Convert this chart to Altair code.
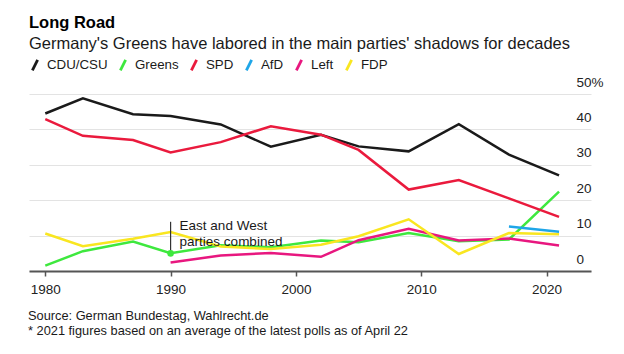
import altair as alt
import pandas as pd

years = [1980, 1983, 1987, 1990, 1994, 1998, 2002, 2005, 2009, 2013, 2017, 2021]
cdu = [44.5, 48.8, 44.3, 43.8, 41.4, 35.1, 38.5, 35.2, 33.8, 41.5, 32.9, 27.0]
greens = [1.5, 5.6, 8.3, 5.0, 7.3, 6.7, 8.6, 8.1, 10.7, 8.4, 8.9, 22.4]
spd = [42.9, 38.2, 37.0, 33.5, 36.4, 40.9, 38.5, 34.2, 23.0, 25.7, 20.5, 15.3]
afd = [None, None, None, None, None, None, None, None, None, None, 12.6, 11.1]
left = [None, None, None, 2.4, 4.4, 5.1, 4.0, 8.7, 11.9, 8.6, 9.2, 7.2]
fdp = [10.6, 7.0, 9.1, 11.0, 6.9, 6.2, 7.4, 9.8, 14.6, 4.8, 10.7, 10.4]

parties = ["CDU/CSU", "Greens", "SPD", "AfD", "Left", "FDP"]
colors = ["#1a1a1a", "#3ee83e", "#ea1a3d", "#1fa6e8", "#e8177f", "#f9e620"]
series = [cdu, greens, spd, afd, left, fdp]

x_ticks = [1980, 1990, 2000, 2010, 2020]
y_ticks = [0, 10, 20, 30, 40, 50]

note_year = 1990
note_top = 13.9
note_bottom = 5.0
note_text_y = 12.8
note_text = "East and West\nparties combined"

source_text = "Source: German Bundestag, Wahlrecht.de"
footnote_text = "* 2021 figures based on an average of the latest polls as of April 22"

rows = []
for p, vals in zip(parties, series):
    for y, v in zip(years, vals):
        if v is not None:
            rows.append({"year": y, "party": p, "share": v})
df = pd.DataFrame(rows)

FONT = "Liberation Sans"

x_scale = alt.Scale(domain=[1978.7, 2023.55], nice=False, zero=False)
y_scale = alt.Scale(domain=[0, 50], nice=False)

x_axis = alt.Axis(values=x_ticks, format="d", grid=False,
                  domainColor="#555555", domainWidth=2, tickColor="#555555",
                  tickWidth=1.5, tickSize=5, labelPadding=6,
                  labelFontSize=13.5, labelColor="#222222", labelFont=FONT)
y_axis = alt.Axis(values=y_ticks, orient="right", grid=True,
                  gridColor="#e3e3e3", gridWidth=1, domain=False, ticks=False,
                  tickSize=0, labelPadding=0, offset=-15, labelAlign="left",
                  labelBaseline="middle", labelOffset=-12,
                  labelFontSize=13.5, labelColor="#222222", labelFont=FONT,
                  labelExpr="datum.value == 50 ? '50%' : datum.label")


def X():
    return alt.X("year:Q", scale=x_scale, title=None, axis=x_axis)


def Y():
    return alt.Y("share:Q", scale=y_scale, title=None, axis=y_axis)


lines = alt.Chart(df).mark_line(strokeWidth=2.5).encode(
    x=X(), y=Y(),
    color=alt.Color("party:N", scale=alt.Scale(domain=parties, range=colors),
                    title=None,
                    legend=alt.Legend(orient="none", legendX=-1, legendY=-36,
                                      direction="horizontal",
                                      symbolType="M-0.5,1L0.5,-1",
                                      symbolSize=110, symbolStrokeWidth=2.8,
                                      labelFontSize=13.3, labelFont=FONT,
                                      labelColor="#1a1a1a", columnPadding=6,
                                      labelOffset=5, labelLimit=200)),
    order=alt.Order("year:Q"),
)

rule_df = pd.DataFrame([{"year": note_year, "share": note_top, "share2": note_bottom}])
dot_df = pd.DataFrame([{"year": note_year, "share": note_bottom}])
label_df = pd.DataFrame([{"year": note_year, "share": note_text_y, "text": note_text}])

note_rule = alt.Chart(rule_df).mark_rule(color="#333333", strokeWidth=1.2).encode(
    x=X(), y=Y(), y2="share2:Q")
note_dot = alt.Chart(dot_df).mark_circle(color="#3ee83e", size=45, opacity=1).encode(
    x=X(), y=Y())
note_label = alt.Chart(label_df).mark_text(
    align="left", baseline="middle", dx=9, lineBreak="\n", lineHeight=16,
    fontSize=13.5, font=FONT, color="#1a1a1a").encode(
    x=X(), y=Y(), text="text:N")

src_df = pd.DataFrame({"src": [source_text], "foot": [footnote_text]})
source = alt.Chart(src_df).mark_text(
    align="left", baseline="middle", fontSize=12.8, font=FONT, color="#1a1a1a").encode(
    x=alt.value(-1), y=alt.value(222), text="src:N")
footnote = alt.Chart(src_df).mark_text(
    align="left", baseline="middle", fontSize=12.8, font=FONT, color="#1a1a1a").encode(
    x=alt.value(-1), y=alt.value(237), text="foot:N")

chart = alt.layer(lines, note_rule, note_dot, note_label, source, footnote).properties(
    width=562, height=177,
    autosize=alt.AutoSizeParams(type="none"),
    padding={"left": 29, "top": 94, "right": 33, "bottom": 83},
    background="white",
    title=alt.TitleParams("Long Road",
                          subtitle="Germany's Greens have labored in the main parties' shadows for decades",
                          anchor="start", frame="group", offset=6,
                          font=FONT, fontSize=16.5, fontWeight="bold", color="#000000",
                          subtitleFont=FONT, subtitleFontSize=16.5,
                          subtitleColor="#1a1a1a", subtitlePadding=4),
).configure_view(stroke=None)

chart.save("out.html", embed_options={"renderer": "svg", "actions": False})
